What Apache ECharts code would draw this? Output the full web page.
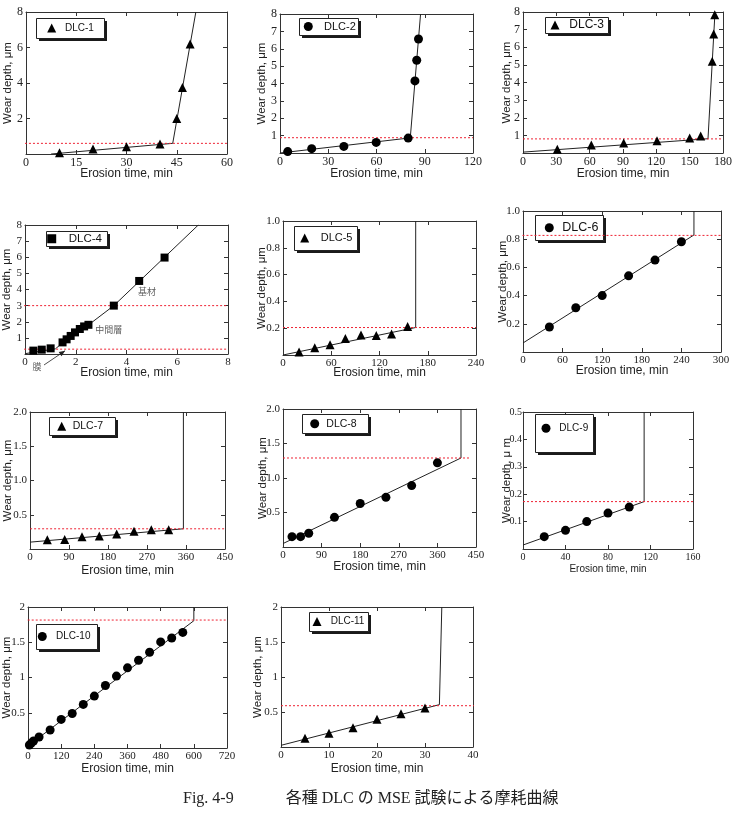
<!DOCTYPE html>
<html>
<head>
<meta charset="utf-8">
<script src="https://cdn.jsdelivr.net/npm/echarts@6.0.0/dist/echarts.min.js"></script>
<style>
  html, body { margin: 0; padding: 0; background: #fff; }
  #chart { width: 733px; height: 813px; }
</style>
</head>
<body>
<div id="chart"></div>
<script>
// values: erosion time (min) / wear depth (um)
var dlc1Time = [10, 20, 30, 40, 45, 46.7, 49];
var dlc1Depth = [0.07, 0.28, 0.41, 0.56, 2.0, 3.75, 6.2];
var dlc1FitTime = [7.5, 43.8, 50.7];
var dlc1FitDepth = [0, 0.6, 8];

var dlc2Time = [4.8, 19.7, 39.7, 59.8, 79.7, 83.9, 85, 86.1];
var dlc2Depth = [0.08, 0.25, 0.38, 0.61, 0.86, 4.15, 5.34, 6.56];
var dlc2FitTime = [0, 81, 87.4];
var dlc2FitDepth = [0, 0.87, 8];

var dlc3Time = [30.9, 61.5, 90.6, 120.6, 150, 159.9, 170.3, 171.6, 172.6];
var dlc3Depth = [0.21, 0.45, 0.57, 0.7, 0.85, 0.96, 5.2, 6.75, 7.85];
var dlc3FitTime = [0, 166.5, 172.8];
var dlc3FitDepth = [0.05, 0.81, 8];

var dlc4Time = [0.33, 0.66, 1.01, 1.48, 1.64, 1.8, 1.97, 2.16, 2.33, 2.5, 3.5, 4.5, 5.5];
var dlc4Depth = [0.21, 0.27, 0.35, 0.72, 0.91, 1.12, 1.34, 1.55, 1.71, 1.81, 3.0, 4.53, 5.98];
var dlc4FitTime = [0, 1.2, 1.5, 2.5, 3.5, 6.83];
var dlc4FitDepth = [0.02, 0.32, 0.72, 1.8, 3.0, 8];

var dlc5Time = [20, 39.5, 58.5, 77.6, 97, 116, 135, 155];
var dlc5Depth = [0.022, 0.055, 0.077, 0.124, 0.149, 0.145, 0.156, 0.212];
var dlc5FitTime = [0, 165, 165];
var dlc5FitDepth = [0, 0.205, 1.0];

var dlc6Time = [40, 80, 120, 160, 200, 240];
var dlc6Depth = [0.177, 0.314, 0.40, 0.54, 0.652, 0.782];
var dlc6FitTime = [0, 259, 259];
var dlc6FitDepth = [0.064, 0.83, 1.0];

var dlc7Time = [40, 80, 120, 160, 200, 240, 280, 320];
var dlc7Depth = [0.136, 0.14, 0.18, 0.19, 0.22, 0.26, 0.28, 0.28];
var dlc7FitTime = [0, 354, 354];
var dlc7FitDepth = [0.1, 0.295, 2.0];

var dlc8Time = [21, 41, 60, 120, 180, 240, 300, 360];
var dlc8Depth = [0.15, 0.15, 0.2, 0.43, 0.63, 0.72, 0.89, 1.22];
var dlc8FitTime = [0, 415, 415];
var dlc8FitDepth = [0.05, 1.29, 2.0];

var dlc9Time = [20, 40, 60, 80, 100];
var dlc9Depth = [0.045, 0.068, 0.10, 0.131, 0.153];
var dlc9FitTime = [0, 114, 114];
var dlc9FitDepth = [0.0145, 0.173, 0.5];

var dlc10Time = [5, 12, 20, 40, 80, 120, 160, 200, 240, 280, 320, 360, 400, 440, 480, 520, 560];
var dlc10Depth = [0.042, 0.07, 0.1, 0.156, 0.255, 0.406, 0.49, 0.618, 0.736, 0.887, 1.02, 1.137, 1.245, 1.358, 1.505, 1.561, 1.64];
var dlc10FitTime = [0, 600, 600];
var dlc10FitDepth = [0.03, 1.805, 2.0];

var dlc11Time = [5, 10, 15, 20, 25, 30];
var dlc11Depth = [0.124, 0.195, 0.276, 0.395, 0.476, 0.557];
var dlc11FitTime = [0, 33, 33.5];
var dlc11FitDepth = [0.024, 0.605, 2.0];

// red dashed film thickness levels
var limitDepth = [[0.6], [0.88], [0.8], [0.3, 3.0], [0.205], [0.827], [0.295], [1.29], [0.173], [1.815], [0.59]];
var limitSpan = [[-2.7, 61.5], [0, 120], [0, 180], [-0.35, 8], [0, 240], [-0.8, 307], [-9, 466], [0, 438], [0, 168], [-30, 720], [0, 41.5]];

// axis ranges [min, max, interval]
var xTicks = [[0, 60, 15], [0, 120, 30], [0, 180, 30], [0, 8, 2], [0, 240, 60], [0, 300, 60], [0, 450, 90], [0, 450, 90], [0, 160, 40], [0, 720, 120], [0, 40, 10]];
var yTicks = [[0, 8, 2], [0, 8, 1], [0, 8, 1], [0, 8, 1], [0, 1, 0.2], [0, 1, 0.2], [0, 2, 0.5], [0, 2, 0.5], [0, 0.5, 0.1], [0, 2, 0.5], [0, 2, 0.5]];
var yDecimals = [0, 0, 0, 0, 1, 1, 1, 1, 1, -1, -1];

// DLC-4 notes and the arrow pointing at the film
var noteText = ['基材', '中間層', '膜'];
var noteTime = [4.81, 3.3, 0.47];
var noteDepth = [3.85, 1.49, -0.8];
var arrowTime = [0.75, 1.58];
var arrowDepth = [-0.68, 0.2];

var names = ['DLC-1', 'DLC-2', 'DLC-3', 'DLC-4', 'DLC-5', 'DLC-6', 'DLC-7', 'DLC-8', 'DLC-9', 'DLC-10', 'DLC-11'];
var times = [dlc1Time, dlc2Time, dlc3Time, dlc4Time, dlc5Time, dlc6Time, dlc7Time, dlc8Time, dlc9Time, dlc10Time, dlc11Time];
var depths = [dlc1Depth, dlc2Depth, dlc3Depth, dlc4Depth, dlc5Depth, dlc6Depth, dlc7Depth, dlc8Depth, dlc9Depth, dlc10Depth, dlc11Depth];
var fitTimes = [dlc1FitTime, dlc2FitTime, dlc3FitTime, dlc4FitTime, dlc5FitTime, dlc6FitTime, dlc7FitTime, dlc8FitTime, dlc9FitTime, dlc10FitTime, dlc11FitTime];
var fitDepths = [dlc1FitDepth, dlc2FitDepth, dlc3FitDepth, dlc4FitDepth, dlc5FitDepth, dlc6FitDepth, dlc7FitDepth, dlc8FitDepth, dlc9FitDepth, dlc10FitDepth, dlc11FitDepth];

// layout
var symbols = ['triangle', 'circle', 'triangle', 'rect', 'triangle', 'circle', 'triangle', 'circle', 'circle', 'circle', 'triangle'];
var gridBox = [
  [26, 12, 201, 142], [280, 14, 193, 139], [523, 12, 200, 141],
  [25, 225, 203, 129], [283, 221, 193, 134], [523, 211, 198, 141],
  [30, 412, 195, 137], [283, 409, 193, 138], [523, 412, 170, 137],
  [28, 607, 199, 141], [281, 607, 192, 140]
];
var labelSizes = [12, 12, 12, 11, 11, 11, 11, 11, 10, 11, 11];
var xNameGap = [14, 15, 15, 13, 12, 13, 16, 14, 15, 15, 16];
var yNameGap = [12, 12, 10, 12, 15, 14, 16, 14, 10, 15, 17];
// legend box: left, top, width, height, icon centre, text start, font size, text centre from top
var legendBox = [
  [36, 18, 68, 20, 15.7, 29, 10, 10], [299, 18, 59, 17, 9.3, 25, 11, 8.5], [545, 17, 63, 16, 10, 24.3, 12, 8],
  [46, 231, 61, 15, 5.7, 22.7, 11.5, 7.5], [294, 226, 63, 24, 10.7, 26.7, 11, 12], [535, 215, 68, 25, 14.3, 27.3, 12.5, 12.5],
  [49, 417, 66, 18, 12.7, 23.7, 10.5, 9], [302, 414, 66, 19, 12.7, 24.3, 10.5, 9.5], [535, 414, 58, 38, 11, 24.3, 10, 14.3],
  [36, 624, 61, 25, 6.3, 20, 10, 12.5], [309, 612, 59, 19, 8, 21.7, 10, 9.5]
];

var SERIF = '"Liberation Serif", "Times New Roman", serif';
var SANS = '"Liberation Sans", Arial, sans-serif';

var grids = [], xAxes = [], yAxes = [], series = [], legends = [], boxes = [];

names.forEach(function (name, i) {
  var g = gridBox[i];
  grids.push({ left: g[0], top: g[1], width: g[2], height: g[3], show: false, outerBoundsMode: 'none' });

  var line = { show: true, onZero: false, lineStyle: { color: '#333', width: 1 } };
  var tick = { show: true, inside: true, length: 4, lineStyle: { color: '#333' } };
  var xt = xTicks[i], yt = yTicks[i];
  var dec = yDecimals[i];
  var labelSize = labelSizes[i];

  xAxes.push({
    gridIndex: i, type: 'value', position: 'bottom', min: xt[0], max: xt[1], interval: xt[2],
    axisLine: line, axisTick: tick, splitLine: { show: false },
    axisLabel: { margin: 3, fontFamily: SERIF, fontSize: labelSize, color: '#222', hideOverlap: false },
    name: 'Erosion time, min', nameLocation: 'middle', nameGap: xNameGap[i], nameMoveOverlap: false,
    nameTextStyle: { fontFamily: SANS, fontSize: i === 8 ? 10 : 12, color: '#222' }
  });
  xAxes.push({
    gridIndex: i, type: 'value', position: 'top', min: xt[0], max: xt[1], interval: xt[2],
    axisLine: line, axisTick: tick, splitLine: { show: false }, axisLabel: { show: false }
  });
  yAxes.push({
    gridIndex: i, type: 'value', position: 'left', min: yt[0], max: yt[1], interval: yt[2],
    axisLine: line, axisTick: tick, splitLine: { show: false },
    axisLabel: {
      margin: i === 8 ? 1 : 3, fontFamily: SERIF, fontSize: labelSize, color: '#222', hideOverlap: false,
      formatter: function (v) {
        if (Math.abs(v) < 1e-9) return '';
        return dec < 0 ? String(+v.toFixed(2)) : v.toFixed(dec);
      }
    },
    name: i === 8 ? 'Wear depth, μ m' : 'Wear depth, μm', nameLocation: 'middle', nameGap: yNameGap[i],
    nameMoveOverlap: false,
    nameTextStyle: { fontFamily: SANS, fontSize: 11.5, color: '#222' }
  });
  yAxes.push({
    gridIndex: i, type: 'value', position: 'right', min: yt[0], max: yt[1], interval: yt[2],
    axisLine: line, axisTick: tick, splitLine: { show: false }, axisLabel: { show: false }
  });

  var fit = fitTimes[i].map(function (t, k) { return [t, fitDepths[i][k]]; });
  series.push({
    type: 'line', xAxisIndex: 2 * i, yAxisIndex: 2 * i, data: fit, symbol: 'none', silent: true,
    lineStyle: { color: '#222', width: 1 }, z: 2
  });

  limitDepth[i].forEach(function (lvl) {
    series.push({
      type: 'line', xAxisIndex: 2 * i, yAxisIndex: 2 * i, clip: false, symbol: 'none', silent: true,
      data: [[limitSpan[i][0], lvl], [limitSpan[i][1], lvl]],
      lineStyle: { color: '#e23', width: 1, type: [2, 2] }, z: 3
    });
  });

  series.push({
    name: name, type: 'scatter', xAxisIndex: 2 * i, yAxisIndex: 2 * i,
    data: times[i].map(function (t, k) { return [t, depths[i][k]]; }),
    symbol: symbols[i], symbolSize: symbols[i] === 'rect' ? 8 : 9,
    itemStyle: { color: '#000', opacity: 1 }, z: 4
  });

  // legend frame with a hard drop shadow, legend items placed inside it
  var lb = legendBox[i];
  var fs = lb[6];
  var ch = Math.max(9, fs);
  boxes.push({ type: 'rect', z: 1, silent: true,
    shape: { x: lb[0] + 3, y: lb[1] + 3, width: lb[2], height: lb[3] },
    style: { fill: '#1a1a1a' } });
  boxes.push({ type: 'rect', z: 2, silent: true,
    shape: { x: lb[0] + 0.5, y: lb[1] + 0.5, width: lb[2], height: lb[3] },
    style: { fill: '#fff', stroke: '#222', lineWidth: 1 } });
  legends.push({
    data: [name], left: lb[0] + lb[4] - 4.5, top: lb[1] + lb[7] - ch / 2, orient: 'horizontal',
    selectedMode: false, itemWidth: 9, itemHeight: 9, itemGap: 0, padding: 0, z: 10,
    backgroundColor: 'transparent', borderWidth: 0,
    textStyle: { fontFamily: SANS, fontSize: fs, lineHeight: fs, color: '#111',
      padding: [0, 0, 0, lb[5] - lb[4] - 4.5 - 5] }
  });
});

// DLC-4 annotations
series.push({
  type: 'scatter', xAxisIndex: 6, yAxisIndex: 6, clip: false, silent: true,
  data: noteText.map(function (s, k) { return [noteTime[k], noteDepth[k], s]; }),
  symbolSize: 1, itemStyle: { color: 'rgba(0,0,0,0)' },
  label: {
    show: true, position: 'inside', color: '#333', fontSize: 9,
    fontFamily: '"Noto Sans CJK JP", sans-serif',
    formatter: function (p) { return p.value[2]; }
  },
  z: 5
});

var chart = echarts.init(document.getElementById('chart'), null, { renderer: 'canvas' });
chart.setOption({
  backgroundColor: '#fff',
  animation: false,
  title: {
    text: 'Fig. 4-9\u3000\u3000\u3000 各種 DLC の MSE 試験による摩耗曲線',
    left: 183, top: 791, padding: 0,
    textStyle: { fontFamily: '"Liberation Serif", "Noto Sans CJK JP", serif', fontSize: 16, fontWeight: 'normal', color: '#222' }
  },
  grid: grids,
  xAxis: xAxes,
  yAxis: yAxes,
  legend: legends,
  series: series
});

// arrow for the 膜 note, placed through the DLC-4 axes
var a0 = chart.convertToPixel({ gridIndex: 3 }, [arrowTime[0], arrowDepth[0]]);
var a1 = chart.convertToPixel({ gridIndex: 3 }, [arrowTime[1], arrowDepth[1]]);
var ang = Math.atan2(a1[1] - a0[1], a1[0] - a0[0]);
var head = [
  a1,
  [a1[0] - 6 * Math.cos(ang) + 2.5 * Math.sin(ang), a1[1] - 6 * Math.sin(ang) - 2.5 * Math.cos(ang)],
  [a1[0] - 6 * Math.cos(ang) - 2.5 * Math.sin(ang), a1[1] - 6 * Math.sin(ang) + 2.5 * Math.cos(ang)]
];
boxes.push({ type: 'line', z: 5, silent: true,
  shape: { x1: a0[0], y1: a0[1], x2: a1[0], y2: a1[1] },
  style: { stroke: '#222', lineWidth: 0.8 } });
boxes.push({ type: 'polygon', z: 5, silent: true,
  shape: { points: head }, style: { fill: '#222' } });

chart.setOption({ graphic: { elements: boxes } });
</script>
</body>
</html>
